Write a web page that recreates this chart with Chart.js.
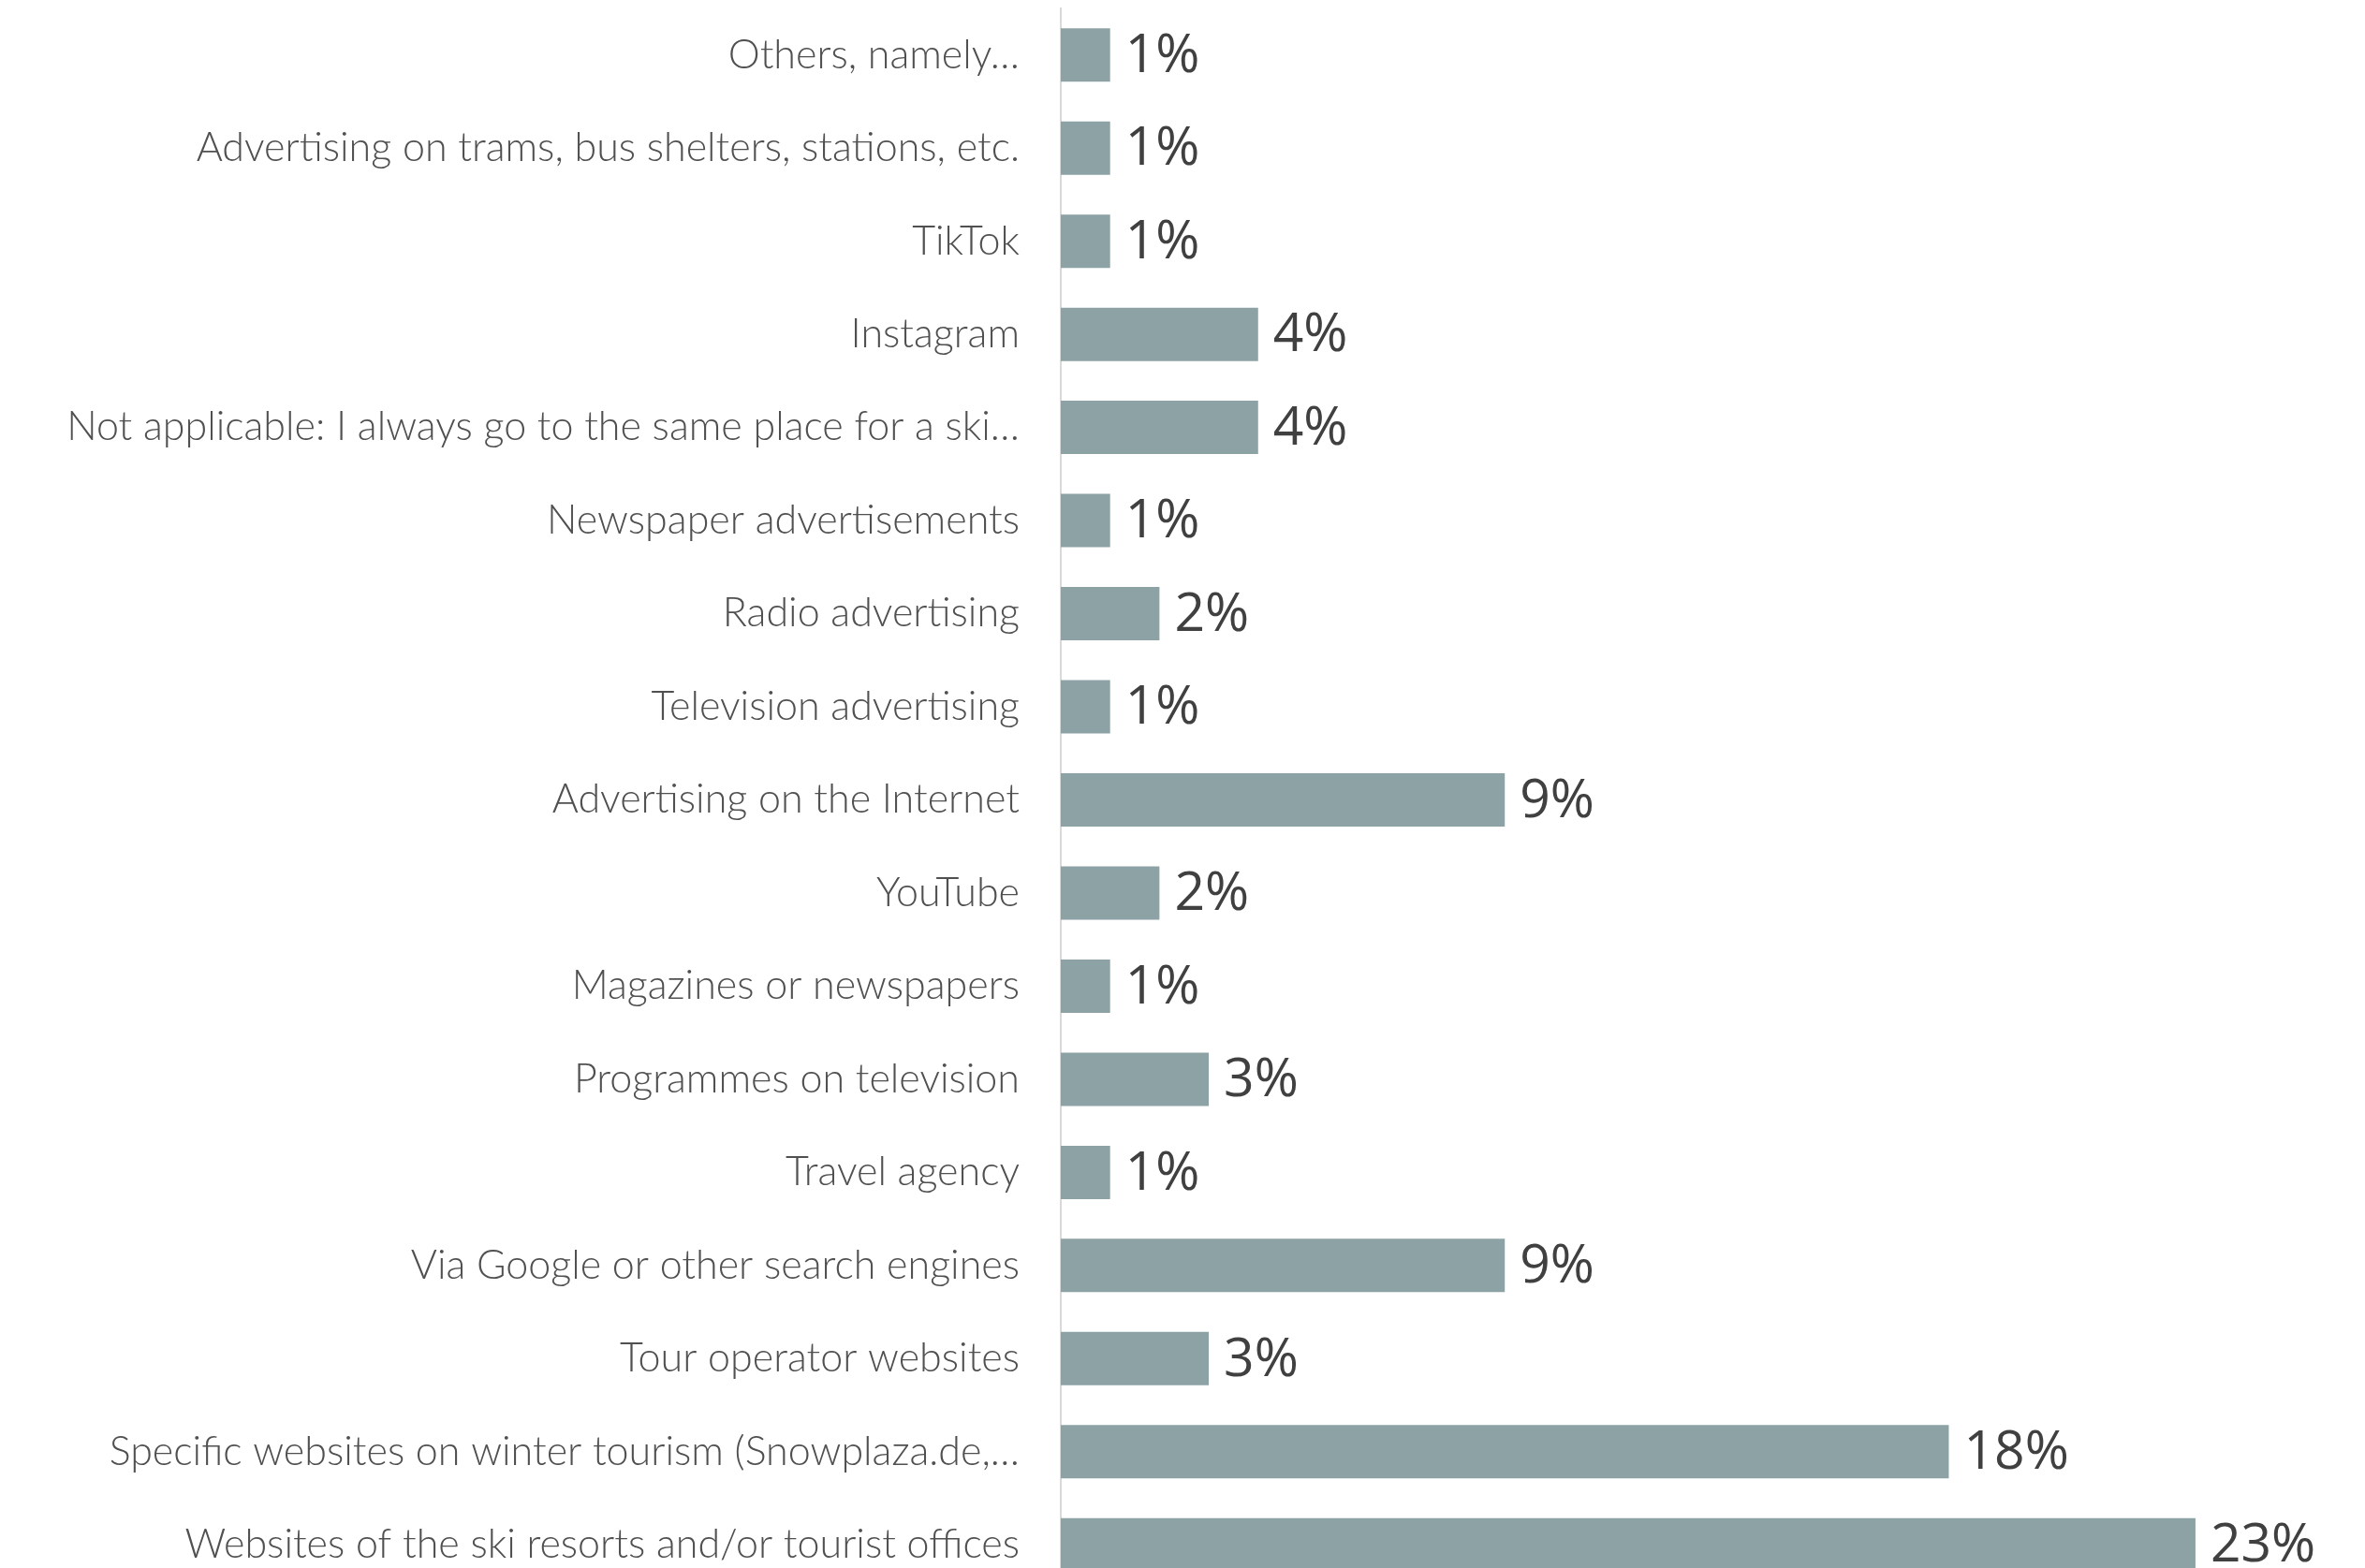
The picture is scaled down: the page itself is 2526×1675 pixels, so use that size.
<!DOCTYPE html>
<html>
<head>
<meta charset="utf-8">
<title>Information sources for choosing a ski destination</title>
<script src="https://cdn.jsdelivr.net/npm/chart.js@4/dist/chart.umd.min.js"></script>
<style>
  html, body { margin: 0; padding: 0; background: #ffffff; overflow: hidden; }
  canvas { display: block; }
</style>
</head>
<body>
<canvas id="chart" width="2526" height="1700"></canvas>
<script>
// Answer categories, top to bottom
const categories = [
  "Others, namely…",
  "Advertising on trams, bus shelters, stations, etc.",
  "TikTok",
  "Instagram",
  "Not applicable: I always go to the same place for a ski…",
  "Newspaper advertisements",
  "Radio advertising",
  "Television advertising",
  "Advertising on the Internet",
  "YouTube",
  "Magazines or newspapers",
  "Programmes on television",
  "Travel agency",
  "Via Google or other search engines",
  "Tour operator websites",
  "Specific websites on winter tourism (Snowplaza.de,…",
  "Websites of the ski resorts and/or tourist offices"
];

// Share of respondents (%)
const shares = [1, 1, 1, 4, 4, 1, 2, 1, 9, 2, 1, 3, 1, 9, 3, 18, 23];

const AXIS_WIDTH = 1133;

// Draws "n%" just past the end of each bar
const valueLabels = {
  id: 'valueLabels',
  afterDatasetsDraw(chart) {
    const ctx = chart.ctx;
    const meta = chart.getDatasetMeta(0);
    ctx.save();
    ctx.font = '400 57px "Open Sans", sans-serif';
    ctx.fillStyle = '#404040';
    ctx.textAlign = 'left';
    ctx.textBaseline = 'middle';
    meta.data.forEach((bar, i) => {
      ctx.fillText(shares[i] + '%', bar.x + 16, bar.y + 2);
    });
    ctx.restore();
  }
};

new Chart(document.getElementById('chart'), {
  type: 'bar',
  data: {
    labels: categories,
    datasets: [{
      data: shares,
      backgroundColor: '#8DA2A5',
      borderWidth: 0,
      barPercentage: 0.573,
      categoryPercentage: 1.0
    }]
  },
  options: {
    indexAxis: 'y',
    responsive: false,
    animation: false,
    layout: { padding: { top: 9, right: 23, bottom: 0, left: 0 } },
    plugins: { legend: { display: false }, tooltip: { enabled: false } },
    scales: {
      x: { display: false, min: 0, max: 26 },
      y: {
        grid: { display: false },
        border: { display: true, color: '#D9D9D9', width: 2 },
        ticks: {
          color: '#505050',
          font: { family: 'Lato, sans-serif', size: 43, weight: '300' },
          padding: 36,
          autoSkip: false
        },
        afterFit(scale) {
          scale.width = AXIS_WIDTH;
          // the band layout runs edge to edge; no extra room for end labels
          scale.paddingTop = 0;
          scale.paddingBottom = 0;
        }
      }
    }
  },
  plugins: [valueLabels]
});
</script>
</body>
</html>
